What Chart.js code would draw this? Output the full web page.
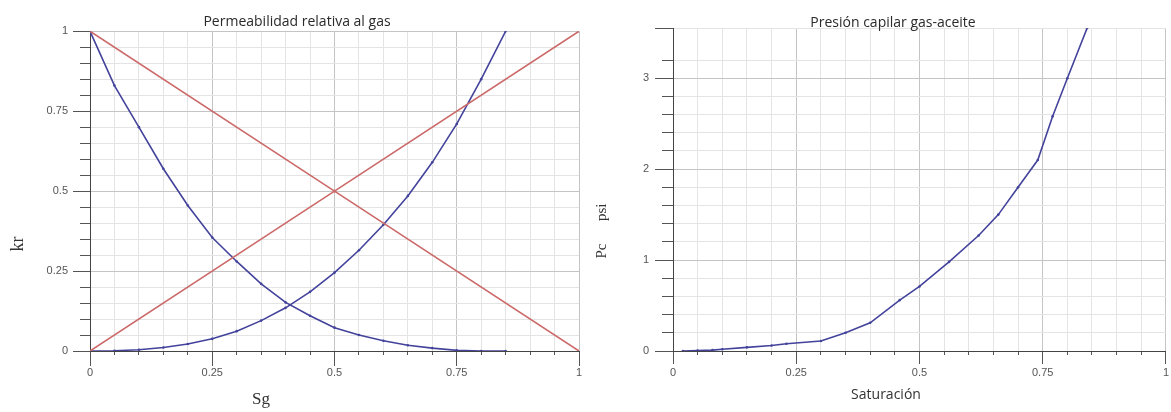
<!DOCTYPE html>
<html>
<head>
<meta charset="utf-8">
<script src="https://cdn.jsdelivr.net/npm/chart.js@4.4.1/dist/chart.umd.min.js"></script>
<style>
  body { margin: 0; background: #fff; }
  canvas { position: absolute; top: 0; }
  #permChart { left: 0; }
  #pcChart { left: 590px; }
</style>
</head>
<body>
<canvas id="permChart" width="590" height="412"></canvas>
<canvas id="pcChart" width="581" height="412"></canvas>
<script>
// Permeabilidad relativa
const sg = [0, 0.05, 0.1, 0.15, 0.2, 0.25, 0.3, 0.35, 0.4, 0.45, 0.5, 0.55, 0.6, 0.65, 0.7, 0.75, 0.8, 0.85];
const krg = [0, 0.001, 0.004, 0.011, 0.022, 0.038, 0.062, 0.095, 0.135, 0.185, 0.245, 0.315, 0.395, 0.485, 0.59, 0.71, 0.85, 1.0];
const krog = [1, 0.83, 0.70, 0.57, 0.455, 0.355, 0.28, 0.21, 0.152, 0.11, 0.073, 0.05, 0.032, 0.018, 0.009, 0.002, 0, 0];
const sgLine = [0, 0.5, 1];
const krUp = [0, 0.5, 1];
const krDown = [1, 0.5, 0];

// Presion capilar
const saturacion = [0.02, 0.05, 0.08, 0.1, 0.15, 0.2, 0.23, 0.3, 0.35, 0.4, 0.46, 0.5, 0.56, 0.62, 0.66, 0.7, 0.74, 0.77, 0.8, 0.84];
const pcPsi = [0, 0.005, 0.01, 0.02, 0.04, 0.06, 0.08, 0.11, 0.2, 0.31, 0.56, 0.71, 0.98, 1.27, 1.5, 1.8, 2.1, 2.58, 3.0, 3.55];

const blue = "#43439c";
const red = "#cc6a6a";
const minorGrid = "#e4e4e4";
const majorGrid = "#c4c4c4";
const tickCol = "#555";
const labelCol = "#555";

function isMultiple(v, step) {
  const r = v / step;
  return Math.abs(r - Math.round(r)) < 1e-6;
}

function toPoints(xs, ys) {
  return xs.map((x, i) => ({ x: x, y: ys[i] }));
}

// inner axis: small tick marks + grid on the plot
function minorAxis(position, min, max, step, majorStep, tickLen) {
  return {
    type: "linear", position: position, min: min, max: max, weight: 0,
    afterFit: s => { if (position === "bottom") s.height = 0; else s.width = 0; },
    ticks: { stepSize: step, display: false },
    grid: {
      color: c => isMultiple(c.tick.value, majorStep) ? majorGrid : minorGrid,
      tickColor: tickCol, tickLength: tickLen, lineWidth: 1
    },
    border: { display: true, color: "#444", width: 1 }
  };
}

// outer axis: long tick marks + labels
function majorAxis(position, min, max, step, tickLen, size, pad) {
  return {
    type: "linear", position: position, min: min, max: max, weight: 1,
    afterFit: s => { if (position === "bottom") s.height = size; else s.width = size; },
    ticks: {
      stepSize: step, padding: pad, color: labelCol, autoSkip: false, maxRotation: 0,
      font: { family: "Liberation Sans", size: 11 },
      callback: v => isMultiple(v, step) ? String(v) : ""
    },
    grid: { drawOnChartArea: false, tickColor: tickCol, tickLength: tickLen },
    border: { display: false }
  };
}

const axisText = {
  id: "axisText",
  afterDraw(chart, args, opts) {
    const ctx = chart.ctx;
    opts.items.forEach(t => {
      ctx.save();
      ctx.translate(t.x, t.y);
      ctx.rotate(t.rot || 0);
      ctx.font = t.font;
      ctx.fillStyle = t.color;
      ctx.textAlign = "center";
      ctx.textBaseline = "middle";
      ctx.fillText(t.text, 0, 0);
      ctx.restore();
    });
  }
};

function lineSet(xs, ys, color) {
  return {
    data: toPoints(xs, ys), showLine: true, borderColor: color, borderWidth: 1.6,
    pointRadius: 1.3, pointBackgroundColor: color, pointBorderWidth: 0,
    tension: 0, xAxisID: "x", yAxisID: "y"
  };
}

new Chart(document.getElementById("permChart"), {
  type: "scatter",
  data: {
    datasets: [
      lineSet(sgLine, krUp, red),
      lineSet(sgLine, krDown, red),
      lineSet(sg, krog, blue),
      lineSet(sg, krg, blue)
    ]
  },
  options: {
    responsive: false,
    animation: false,
    layout: { padding: { left: 15, right: 11, top: 0, bottom: 0 } },
    plugins: {
      legend: { display: false },
      tooltip: { enabled: false },
      title: {
        display: true, text: "Permeabilidad relativa al gas", color: "#2a2a2a",
        font: { family: "Open Sans", size: 14, weight: "normal", lineHeight: 0.8 },
        padding: { top: 16, bottom: 4 }
      },
      axisText: {
        items: [
          { text: "kr", x: 18, y: 244, rot: -Math.PI / 2, font: "18px 'Liberation Serif'", color: "#333" },
          { text: "Sg", x: 261, y: 400, font: "17px 'Liberation Serif'", color: "#333" }
        ]
      }
    },
    scales: {
      x: minorAxis("bottom", 0, 1, 0.05, 0.25, 4),
      xMajor: majorAxis("bottom", 0, 1, 0.25, 15, 61, 0),
      y: minorAxis("left", 0, 1, 0.05, 0.25, 10),
      yMajor: majorAxis("left", 0, 1, 0.25, 17, 75, 5)
    }
  },
  plugins: [axisText]
});

new Chart(document.getElementById("pcChart"), {
  type: "scatter",
  data: {
    datasets: [lineSet(saturacion, pcPsi, blue)]
  },
  options: {
    responsive: false,
    animation: false,
    layout: { padding: { left: 30, right: 5, top: 0, bottom: 0 } },
    plugins: {
      legend: { display: false },
      tooltip: { enabled: false },
      title: {
        display: true, text: "Presión capilar gas-aceite", color: "#2a2a2a",
        font: { family: "Open Sans", size: 14, weight: "normal", lineHeight: 0.8 },
        padding: { top: 17, bottom: 0 }
      },
      axisText: {
        items: [
          { text: "Pc      psi", x: 12, y: 231, rot: -Math.PI / 2, font: "15px 'Liberation Serif'", color: "#333" },
          { text: "Saturación", x: 296, y: 395, font: "14px 'Open Sans'", color: "#333" }
        ]
      }
    },
    scales: {
      x: minorAxis("bottom", 0, 1, 0.05, 0.25, 4),
      xMajor: majorAxis("bottom", 0, 1, 0.25, 13, 61, 2),
      y: minorAxis("left", 0, 3.55, 0.2, 1, 11),
      yMajor: majorAxis("left", 0, 3.55, 1, 18, 53, 6)
    }
  },
  plugins: [axisText]
});
</script>
</body>
</html>
